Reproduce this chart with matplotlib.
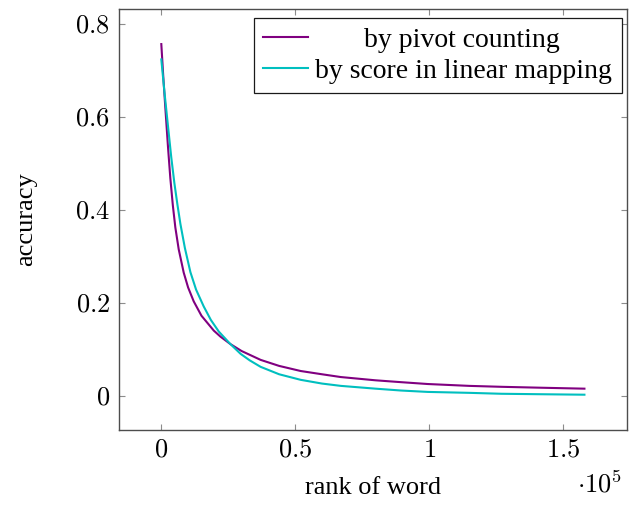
import matplotlib
matplotlib.use("Agg")
import matplotlib.pyplot as plt

plt.rcParams['font.family'] = ['Liberation Serif', 'DejaVu Serif']
plt.rcParams['mathtext.fontset'] = 'cm'

# values
rank_pivot = [0, 700, 1500, 2500, 3370, 4300, 5240, 6500, 8360, 10000, 12100,
              15000, 19600, 22100, 25800, 30000, 37080, 44000, 52060, 60000,
              67040, 80000, 89500, 99500, 115000, 127000, 142000, 158000]
acc_pivot = [0.757, 0.690, 0.620, 0.535, 0.468, 0.410, 0.362, 0.315, 0.265, 0.233, 0.203,
             0.172, 0.140, 0.127, 0.111, 0.096, 0.077, 0.064, 0.053, 0.046,
             0.040, 0.033, 0.029, 0.025, 0.021, 0.019, 0.017, 0.015]

rank_score = [0, 1200, 2500, 3700, 4870, 6000, 7120, 8800, 10860, 13000, 15840,
              18500, 21460, 25800, 29600, 33000, 37080, 44000, 52060, 60000,
              67040, 80000, 89500, 99500, 115000, 127000, 142000, 158000]
acc_score = [0.724, 0.652, 0.580, 0.514, 0.458, 0.412, 0.370, 0.318, 0.266, 0.228, 0.192,
             0.163, 0.138, 0.111, 0.090, 0.076, 0.062, 0.046, 0.034, 0.026,
             0.021, 0.015, 0.011, 0.008, 0.006, 0.004, 0.003, 0.002]

xticks = [0, 50000, 100000, 150000]
xticklabels = ['0', '0.5', '1', '1.5']
yticks = [0, 0.2, 0.4, 0.6, 0.8]
yticklabels = ['0', '0.2', '0.4', '0.6', '0.8']

fig = plt.figure(figsize=(6.35, 5.13), dpi=100)
ax = fig.add_axes([0.1874, 0.1618, 0.7996, 0.8207])

ax.plot(rank_pivot, acc_pivot, color='#800080', lw=1.5,
        label='       by pivot counting')
ax.plot(rank_score, acc_score, color='#00BFBF', lw=1.5,
        label='by score in linear mapping')

ax.set_xlim(-15800, 173800)
ax.set_ylim(-0.074, 0.8326)
ax.set_xticks(xticks)
ax.set_xticklabels(['$' + s + '$' for s in xticklabels])
ax.set_yticks(yticks)
ax.set_yticklabels(['$' + s + '$' for s in yticklabels])
ax.tick_params(direction='in', length=4, width=0.8, color='0.55',
               top=True, right=True, labelsize=19)
ax.tick_params(axis='x', pad=7)
ax.tick_params(axis='y', pad=6.5)
for s in ax.spines.values():
    s.set_color('0.3')
    s.set_linewidth(1.0)

ax.set_xlabel('rank of word', fontsize=19)
ax.xaxis.set_label_coords(0.5, -0.112)
ax.set_ylabel('accuracy', fontsize=19)
ax.yaxis.set_label_coords(-0.161, 0.5)
fig.text(0.98, 0.031, r'$\cdot 10^5$', fontsize=19, ha='right', va='bottom')

leg = ax.legend(loc='upper right', bbox_to_anchor=(0.990, 0.9786),
                borderaxespad=0, fontsize=20, fancybox=False, framealpha=1,
                edgecolor='0.1', handlelength=1.6, handletextpad=0.28,
                borderpad=0.34, labelspacing=0.2)
leg.get_frame().set_linewidth(0.9)

fig.savefig('out.png', dpi=100)
